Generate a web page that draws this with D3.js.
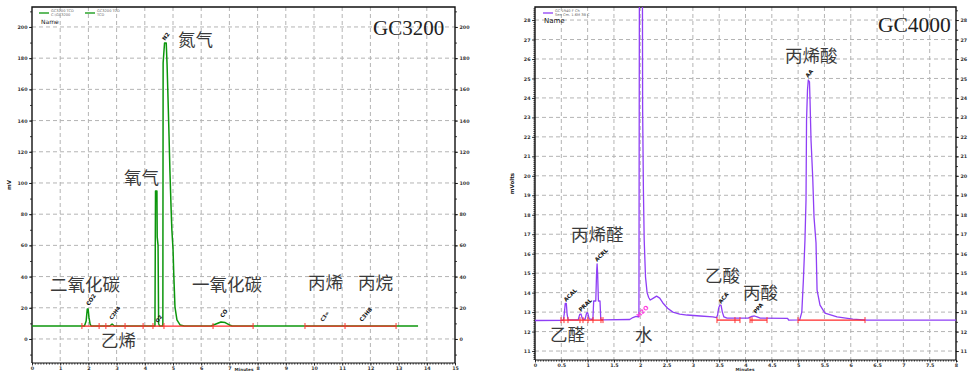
<!DOCTYPE html>
<html><head><meta charset="utf-8">
<script src="https://cdn.jsdelivr.net/npm/d3@7"></script>
<style>body{margin:0;background:#fff}svg{display:block}</style>
</head><body>
<svg id="c" width="968" height="372"></svg>
<script>
// ---------------- DATA ----------------
// GC3200 chromatogram (time min, signal mV)
const gc3200Trace = [
 [0,8.3],[1.86,8.3],[1.92,11.5],[1.96,19.2],[1.99,19.2],[2.02,14],[2.06,9.5],[2.1,8.3],
 [2.76,8.3],[2.84,9.6],[2.92,8.3],
 [4.36,8.3],[4.38,94.9],[4.43,94.9],[4.44,65.4],[4.47,60],[4.49,10],[4.52,8.3],
 [4.64,8.3],[4.65,176.9],[4.70,189.7],[4.76,189.7],[4.79,175.6],[4.82,156.4],[4.86,130],[4.89,108.3],
 [4.93,85],[4.96,69.9],[5.0,58],[5.03,40],[5.07,20.5],[5.14,12.2],[5.25,9],[5.4,8.3],
 [6.35,8.3],[6.5,9.4],[6.7,10.9],[6.85,10.5],[7.0,9],[7.1,8.3],
 [13.69,8.3]
];
const gc3200Integration = [[1.77,7.84],[9.68,12.91]];
const gc3200IntegrationMarks = [1.77,2.38,2.62,3.30,3.94,4.29,4.68,6.42,7.84,9.68,11.1,12.91];
const gc3200PeakNames = ["CO2","C2H4","O2","N2","CO","C3=","C3H8"];
const gc3200Compounds = ["二氧化碳","乙烯","氧气","氮气","一氧化碳","丙烯","丙烷"];
const gc3200XTicks = [0,1,2,3,4,5,6,7,8,9,10,11,12,13,14,15];
const gc3200YTicks = [0,20,40,60,80,100,120,140,160,180,200];

// GC4000 chromatogram (time min, signal mVolts)
const gc4000Trace = [
 [0,12.57],[0.54,12.58],[0.56,13.0],[0.575,13.45],[0.595,13.45],[0.61,12.9],[0.63,12.6],
 [0.82,12.6],[0.85,12.88],[0.875,12.9],[0.9,12.65],[0.95,12.62],[0.98,12.95],[1.0,12.97],[1.03,12.65],
 [1.10,12.62],[1.115,13.57],[1.155,13.57],[1.17,15.0],[1.18,15.47],[1.19,15.0],[1.205,13.57],[1.235,13.57],[1.25,12.62],
 [1.30,12.6],[1.80,12.62],[1.86,12.72],[1.92,12.78],[1.96,12.75],[1.975,12.8],[1.985,32],[2.04,32],
 [2.045,23.48],[2.06,19.27],[2.075,16.7],[2.10,14.8],[2.13,14.0],[2.16,13.75],[2.19,13.62],[2.25,13.72],
 [2.31,13.82],[2.37,13.72],[2.43,13.47],[2.52,13.2],[2.62,13.0],[2.75,12.9],[2.89,12.85],[3.14,12.8],
 [3.38,12.75],[3.45,12.72],
 [3.47,12.85],[3.49,13.2],[3.51,13.36],[3.535,13.36],[3.56,13.0],[3.59,12.75],[3.65,12.69],
 [4.05,12.69],[4.12,12.78],[4.17,12.80],[4.22,12.75],[4.28,12.69],
 [4.80,12.68],[4.82,12.59],[5.03,12.6],[5.07,13.0],[5.10,14.65],[5.13,16.7],[5.15,18.76],[5.16,22.86],
 [5.178,24.41],[5.193,24.92],[5.216,24.82],[5.226,23.89],[5.245,21.84],[5.277,19.94],[5.302,17.88],
 [5.34,16.55],[5.36,14.13],[5.416,13.36],[5.51,12.95],[5.74,12.75],[6.04,12.64],[6.31,12.59],[8.0,12.59]
];
const gc4000Integration = [[0.494,1.292],[3.458,3.895],[4.086,4.409],[4.998,6.271]];
const gc4000IntegrationMarks = [0.494,0.551,0.627,0.855,0.912,1.007,1.102,1.254,1.292,3.458,3.80,3.895,4.086,4.124,4.409,4.998,6.271];
const gc4000PeakNames = ["ACAL","PRAL","ACRL","H2O","ACA","PPA","AA"];
const gc4000Compounds = ["乙醛","丙烯醛","水","乙酸","丙酸","丙烯酸"];
const gc4000XTicks = [0,0.5,1,1.5,2,2.5,3,3.5,4,4.5,5,5.5,6,6.5,7,7.5,8];
const gc4000YTicks = [11,12,13,14,15,16,17,18,19,20,21,22,23,24,25,26,27,28];

// ---------------- LAYOUT ----------------
const svg = d3.select("#c");
const tickFont = "DejaVu Sans, sans-serif";
const cjkFont = "'Noto Sans CJK SC', sans-serif";

function panel(cfg){
  const x = d3.scaleLinear().domain(cfg.xDomain).range([cfg.left, cfg.right]);
  const y = d3.scaleLinear().domain(cfg.yDomain).range([cfg.bottom, cfg.top]);
  const g = svg.append("g");
  const clipId = "clip"+cfg.id;
  svg.append("clipPath").attr("id", clipId).append("rect")
    .attr("x", cfg.left).attr("y", cfg.top).attr("width", cfg.right-cfg.left).attr("height", cfg.bottom-cfg.top);

  // grid
  g.selectAll(".vg").data(cfg.xTicks.slice(1,-1)).join("line")
    .attr("x1", d=>x(d)).attr("x2", d=>x(d)).attr("y1", cfg.top).attr("y2", cfg.bottom)
    .attr("stroke", "#b4b4b4").attr("stroke-dasharray", "4,3").attr("stroke-width", 1);
  g.selectAll(".hg").data(cfg.yTicks).join("line")
    .attr("y1", d=>y(d)).attr("y2", d=>y(d)).attr("x1", cfg.left).attr("x2", cfg.right)
    .attr("stroke", "#b4b4b4").attr("stroke-dasharray", "4,3").attr("stroke-width", 1);

  // axes
  const ax = (gen, tr, vals, size, labels) => {
    const a = g.append("g").attr("transform", tr)
      .call(gen.tickValues(vals).tickSize(size).tickSizeOuter(0).tickPadding(1.5)
        .tickFormat(labels ? cfg.fmt(labels) : ""));
    a.select(".domain").remove();
    a.selectAll("line").attr("stroke", "#111").attr("stroke-width", 0.8);
    a.selectAll("text").attr("font-family", tickFont).attr("font-size", 4.8).attr("font-weight", "bold").attr("fill", "#333");
    return a;
  };
  ax(d3.axisBottom(x), `translate(0,${cfg.bottom})`, cfg.xMinor, 1.6, false);
  ax(d3.axisBottom(x), `translate(0,${cfg.bottom})`, cfg.xTicks, 2.5, true);
  ax(d3.axisLeft(y), `translate(${cfg.left},0)`, cfg.yMinorL, cfg.yMinorSize, false);
  ax(d3.axisLeft(y), `translate(${cfg.left},0)`, cfg.yTicks, 3, true);
  ax(d3.axisRight(y), `translate(${cfg.right},0)`, cfg.yMinorR, 2, false);
  ax(d3.axisRight(y), `translate(${cfg.right},0)`, cfg.yTicks, 3, true);

  // frame
  g.append("path").attr("d", `M${cfg.left},${cfg.bottom}V${cfg.top}H${cfg.right}V${cfg.bottom}`)
    .attr("fill", "none").attr("stroke", "#111").attr("stroke-width", 1.4);
  g.append("line").attr("x1", cfg.left).attr("x2", cfg.right).attr("y1", cfg.bottom).attr("y2", cfg.bottom)
    .attr("stroke", "#111").attr("stroke-width", 1.2);

  // trace
  const line = d3.line().x(d=>x(d[0])).y(d=>y(d[1]));
  const cg = g.append("g").attr("clip-path", `url(#${clipId})`);
  cg.append("path").datum(cfg.trace).attr("d", line).attr("fill", "none")
    .attr("stroke", cfg.color).attr("stroke-width", cfg.width).attr("stroke-linejoin", "round");
  // integration baselines
  cg.selectAll(".ib").data(cfg.integ).join("line")
    .attr("x1", d=>x(d[0])).attr("x2", d=>x(d[1]))
    .attr("y1", y(cfg.integY)).attr("y2", y(cfg.integY))
    .attr("stroke", "#ff2a2a").attr("stroke-width", 1.3);
  cg.selectAll(".im").data(cfg.integMarks).join("line")
    .attr("x1", d=>x(d)).attr("x2", d=>x(d))
    .attr("y1", y(cfg.integY)-3).attr("y2", y(cfg.integY)+3)
    .attr("stroke", "#ff3333").attr("stroke-width", 1);

  // axis titles
  g.append("text").attr("transform", `translate(${cfg.yTitleX},${(cfg.top+cfg.bottom)/2}) rotate(-90)`)
    .attr("text-anchor","middle").attr("font-family", tickFont).attr("font-size", 5.5).attr("font-weight","bold")
    .attr("fill","#222").text(cfg.yTitle);
  g.append("text").attr("x", cfg.xTitleX).attr("y", 370.5).attr("text-anchor","middle")
    .attr("font-family", tickFont).attr("font-size", 4.2).attr("font-weight","bold").attr("fill","#333").text("Minutes");

  // legend
  cfg.legend.forEach((l,i)=>{
    g.append("line").attr("x1", l.x).attr("x2", l.x+10).attr("y1", 13).attr("y2", 13)
      .attr("stroke", cfg.color).attr("stroke-width", 1.3);
    l.lines.forEach((t,j)=> g.append("text").attr("x", l.x+12).attr("y", 11.5+j*4.5)
      .attr("font-family", tickFont).attr("font-size", 3.6).attr("fill","#666").text(t));
  });
  g.append("text").attr("x", cfg.left+9).attr("y", cfg.nameY).attr("font-family", tickFont)
    .attr("font-size", cfg.nameSize).attr("fill","#111").text("Name");

  // peak labels (small, rotated)
  cfg.peakLabels.forEach((p,i)=>{
    g.append("text").attr("transform", `translate(${p[0]},${p[1]}) rotate(${p[2]})`)
      .attr("font-family", tickFont).attr("font-size", p[3]).attr("font-weight","bold")
      .attr("fill", p[4] || "#111").text(cfg.peakNames[i]);
  });
  // Chinese compound labels
  cfg.cnLabels.forEach((p,i)=>{
    g.append("text").attr("x", p[0]).attr("y", p[1]).attr("font-family", cjkFont)
      .attr("font-size", 17.5).attr("fill","#3a3a3a").text(cfg.compounds[i]);
  });
  // instrument title
  g.append("text").attr("x", cfg.title[1]).attr("y", cfg.title[2])
    .attr("font-family", "'Liberation Serif', serif").attr("font-size", cfg.title[3]).attr("fill","#222").text(cfg.title[0]);
}

panel({
  id:"a", left:32, right:455, top:7, bottom:363,
  xDomain:[0,15], yDomain:[-15.4,212.8],
  xTicks:gc3200XTicks, yTicks:gc3200YTicks,
  xMinor:d3.range(0,15.001,0.1), yMinorL:d3.range(-10,211,10), yMinorR:d3.range(-10,211,10), yMinorSize:2,
  fmt: ()=> d=>String(d),
  trace:gc3200Trace, color:"#0c960c", width:1.5,
  integ:gc3200Integration, integMarks:gc3200IntegrationMarks, integY:8.3,
  yTitle:"mV", yTitleX:11, xTitleX:244,
  legend:[{x:39, lines:["GC3200 TCD","C:\\GC3200"]},{x:85, lines:["GC3200 TCD","TCD"]}],
  nameY:24, nameSize:6,
  peakNames:gc3200PeakNames,
  peakLabels:[[89,306,-55,5.5],[112,320,-55,5],[158,323,-55,5],[165,41,-55,5.5],[223,318,-55,5.5],[323,322,-55,5],[362,322,-50,5.5]],
  compounds:gc3200Compounds,
  cnLabels:[[50,291],[101,347],[124,184],[178,45.5],[192,291],[308,289],[358,289]],
  title:["GC3200",373,35,21]
});

panel({
  id:"b", left:535, right:956, top:7, bottom:360,
  xDomain:[0,8], yDomain:[10.54,28.67],
  xTicks:gc4000XTicks, yTicks:gc4000YTicks,
  xMinor:d3.range(0,8.001,0.05), yMinorL:d3.range(10.6,28.61,0.1), yMinorR:d3.range(10.5,28.6,0.5), yMinorSize:1.6,
  fmt: ()=> d=>String(d),
  trace:gc4000Trace, color:"#8f3ff5", width:1.3,
  integ:gc4000Integration, integMarks:gc4000IntegrationMarks, integY:12.59,
  yTitle:"mVolts", yTitleX:514, xTitleX:745,
  legend:[{x:543, lines:["GC 1940 F Ch","Sen Cm. 1.6M 3B C"]}],
  nameY:23, nameSize:7,
  peakNames:gc4000PeakNames,
  peakLabels:[[566,302,-45,5.5],[581,312,-45,5.5],[597,262,-45,5.5],[639,318,-45,6,"#ff33dd"],[721,304,-50,5.5],[756,314,-50,5.5],[808,78,-50,5.5]],
  compounds:gc4000Compounds,
  cnLabels:[[550,341],[571,241],[635,341],[705,282],[743,299],[785,62]],
  title:["GC4000",878,32,21.5]
});
</script>
</body></html>
